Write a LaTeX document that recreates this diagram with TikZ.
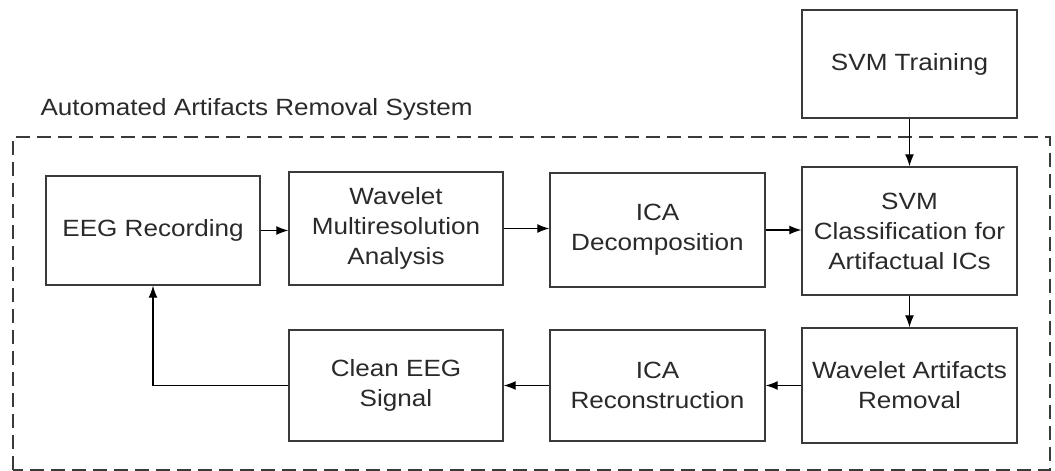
\documentclass[tikz,border=0pt]{standalone}
\usepackage{fontspec}
\setmainfont[FakeStretch=1.11]{Liberation Sans}
\usetikzlibrary{arrows.meta}
\definecolor{ink}{HTML}{2A2A2A}
\definecolor{edge}{HTML}{3A3A3A}
\tikzset{
  blk/.style={draw=edge, line width=1.4pt, align=center, text=ink, inner sep=0pt,
    font=\fontsize{23.5}{30}\selectfont},
  arr/.style={draw=black, line width=1.2pt, -{Latex[length=12pt,width=9pt]}},
  sysbox/.style={draw=edge, line width=1.1pt, dash pattern=on 14pt off 7pt},
}
\begin{document}
\begin{tikzpicture}[x=1pt,y=1pt]
\useasboundingbox (0,0) rectangle (1055,471);
\fill[white] (0,0) rectangle (1055,471);
\draw[sysbox] (13,1) rectangle (1050,334);
\node[anchor=west, text=ink, font=\fontsize{23.5}{30}\selectfont] (lbl) at (37,362) {Automated Artifacts Removal System};
\node[blk, minimum width=215pt, minimum height=108pt] (svmt) at (909.5,407) {SVM Training};
\node[blk, minimum width=214pt, minimum height=109pt] (eeg) at (153,240.5) {EEG Recording};
\node[blk, minimum width=214pt, minimum height=113pt] (wav) at (396,242.5) {Wavelet\\Multiresolution\\Analysis};
\node[blk, minimum width=215pt, minimum height=114pt] (icad) at (657.5,241) {ICA\\Decomposition};
\node[blk, minimum width=215pt, minimum height=128pt] (svmc) at (909.5,240) {SVM\\Classification for\\Artifactual ICs};
\node[blk, minimum width=215pt, minimum height=115pt] (war) at (909.5,85.5) {Wavelet Artifacts\\Removal};
\node[blk, minimum width=215pt, minimum height=111pt] (icar) at (657.5,85.5) {ICA\\Reconstruction};
\node[blk, minimum width=214pt, minimum height=111pt] (clean) at (396,85.5) {Clean EEG\\Signal};
\draw[arr] (eeg.east) -- (eeg.east -| wav.west);
\draw[arr] (wav.east) -- (wav.east -| icad.west);
\draw[arr] (icad.east) -- (icad.east -| svmc.west);
\draw[arr] (svmt.south) -- (svmc.north);
\draw[arr] (svmc.south) -- (war.north);
\draw[arr] (war.west) -- (war.west -| icar.east);
\draw[arr] (icar.west) -- (icar.west -| clean.east);
\draw[arr] (clean.west) -| (eeg.south);
\end{tikzpicture}
\end{document}
